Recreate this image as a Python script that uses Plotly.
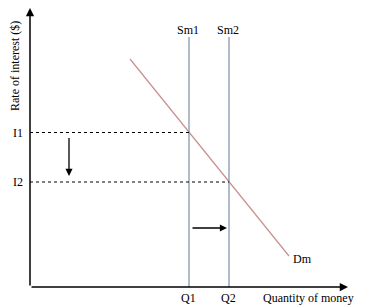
import plotly.graph_objects as go

# Data (chart units: quantity to the right, interest upward, origin at axes corner)
supply_labels = ["Sm1", "Sm2"]
supply_q = [159, 199]
supply_top = 250
rate_labels = ["I1", "I2"]
rate_values = [154.5, 105]
qty_labels = ["Q1", "Q2"]
demand_q = [100, 259]
demand_r = [228, 31]
x_axis_end = 318
y_axis_end = 279

FONT = dict(family="Liberation Serif, Times New Roman, serif", size=12, color="#000000")
SUP_COLOR = "#7f8ea6"
DEM_COLOR = "#c8908f"

fig = go.Figure()

# Demand curve
fig.add_trace(go.Scatter(x=demand_q, y=demand_r, mode="lines",
                         line=dict(color=DEM_COLOR, width=1.2), hoverinfo="skip"))
# Supply lines
for q in supply_q:
    fig.add_trace(go.Scatter(x=[q, q], y=[0, supply_top], mode="lines",
                             line=dict(color=SUP_COLOR, width=1.2), hoverinfo="skip"))
# Dashed interest-rate lines
for q, r in zip(supply_q, rate_values):
    fig.add_trace(go.Scatter(x=[0, q], y=[r, r], mode="lines",
                             line=dict(color="#000000", width=1, dash="3px,3px"), hoverinfo="skip"))

ann = []
# Axes arrows
ann.append(dict(x=0, y=y_axis_end, ax=0, ay=0, xref="x", yref="y", axref="x", ayref="y",
                showarrow=True, arrowhead=2, arrowsize=1.1, arrowwidth=1.5, arrowcolor="#000", text=""))
ann.append(dict(x=x_axis_end, y=0, ax=0, ay=0, xref="x", yref="y", axref="x", ayref="y",
                showarrow=True, arrowhead=2, arrowsize=1.1, arrowwidth=1.5, arrowcolor="#000", text=""))
# Shift arrows
ann.append(dict(x=39, y=rate_values[1] + 6, ax=39, ay=rate_values[0] - 4, xref="x", yref="y",
                axref="x", ayref="y", showarrow=True, arrowhead=2, arrowsize=1.1, arrowwidth=1.3,
                arrowcolor="#000", text=""))
ann.append(dict(x=supply_q[1] - 2, y=59, ax=supply_q[0] + 2, ay=59, xref="x", yref="y",
                axref="x", ayref="y", showarrow=True, arrowhead=2, arrowsize=1.1, arrowwidth=1.3,
                arrowcolor="#000", text=""))

for lab, q in zip(supply_labels, supply_q):
    ann.append(dict(x=q - 1, y=257, text=lab, showarrow=False, font=FONT, xref="x", yref="y"))
for lab, r in zip(rate_labels, rate_values):
    ann.append(dict(x=-12, y=r, text=lab, showarrow=False, font=FONT, xref="x", yref="y"))
for lab, q in zip(qty_labels, supply_q):
    ann.append(dict(x=q - 1, y=-11, text=lab, showarrow=False, font=FONT, xref="x", yref="y"))
ann.append(dict(x=278, y=-11, text="Quantity of money", showarrow=False, font=FONT, xref="x", yref="y"))
ann.append(dict(x=272, y=28, text="Dm", showarrow=False, font=FONT, xref="x", yref="y"))
ann.append(dict(x=-15, y=221, text="Rate of interest ($)", showarrow=False, font=FONT,
                textangle=-90, xref="x", yref="y"))

fig.update_layout(
    width=380, height=308, margin=dict(l=0, r=0, t=0, b=0),
    paper_bgcolor="white", plot_bgcolor="white", showlegend=False,
    xaxis=dict(range=[-30, 350], visible=False, fixedrange=True),
    yaxis=dict(range=[-21, 287], visible=False, fixedrange=True),
    annotations=ann,
)
fig.write_html("out.html")
